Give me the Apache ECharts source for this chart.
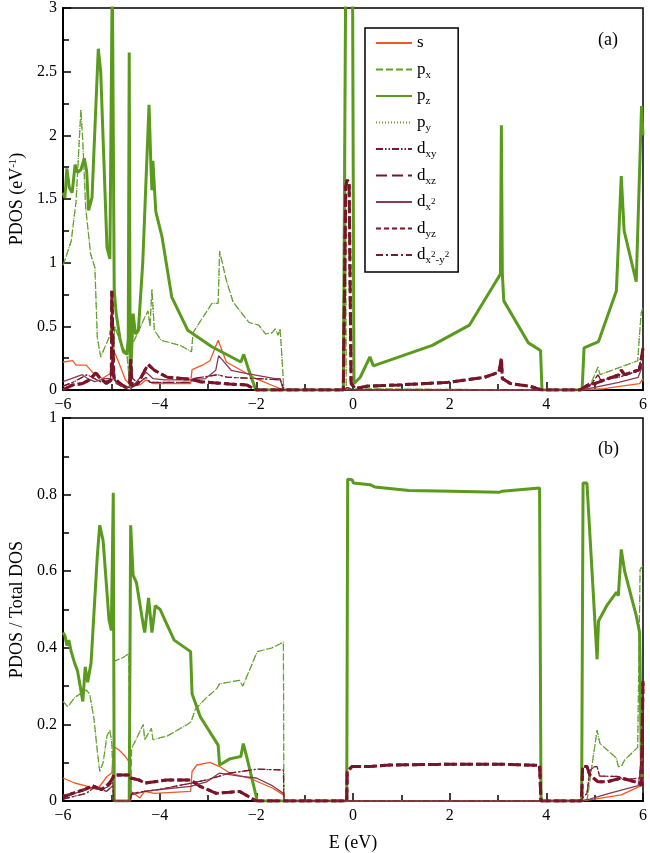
<!DOCTYPE html>
<html>
<head>
<meta charset="utf-8">
<script src="https://cdn.jsdelivr.net/npm/echarts@6/dist/echarts.min.js"></script>
<style>
  html, body { margin: 0; padding: 0; background: #fff; }
  #chart { width: 650px; height: 853px; }
</style>
</head>
<body>
<div id="chart"></div>
<script>
// x ticks and y ranges
const xTicks = [-6, -4, -2, 0, 2, 4, 6]
const yTopMax = 3
const yBotMax = 1

// (a) PDOS, eV^-1  -- [E, value]
const sTop = [[-6,0.22],[-5.8,0.23],[-5.73,0.195],[-5.52,0.195],[-5.39,0.14],[-5.19,0.09],[-5.02,0.13],[-4.95,0.31],[-4.85,0.22],[-4.71,0.08],[-4.61,0.04],[-4.41,0.04],[-4.28,0.08],[-4.14,0.05],[-3.36,0.05],[-3.33,0.16],[-3.09,0.2],[-2.96,0.23],[-2.79,0.39],[-2.62,0.22],[-2.01,0.09],[-1.44,0],[-0.2,0],[-0.12,0.02],[0,0],[4.7,0],[5.2,0.01],[5.55,0.03],[5.93,0.05],[6,0.09]]
const pxTop = [[-6,0.98],[-5.96,1.02],[-5.83,1.17],[-5.73,1.48],[-5.63,2.2],[-5.59,1.95],[-5.53,1.43],[-5.43,1.07],[-5.34,0.96],[-5.29,0.41],[-5.22,0.26],[-5.05,0.41],[-4.98,0.55],[-4.96,0.2],[-4.93,0.5],[-4.78,0.34],[-4.68,0.29],[-4.62,0.05],[-4.58,0.35],[-4.45,0.45],[-4.31,0.57],[-4.24,0.62],[-4.2,0.5],[-4.16,0.79],[-4.11,0.47],[-3.97,0.39],[-3.57,0.35],[-3.34,0.3],[-3.31,0.45],[-2.92,0.68],[-2.79,0.68],[-2.76,1.09],[-2.62,0.86],[-2.48,0.69],[-2.15,0.53],[-1.95,0.51],[-1.81,0.44],[-1.67,0.45],[-1.61,0.48],[-1.55,0.43],[-1.51,0.48],[-1.49,0.38],[-1.43,0],[-0.2,0],[-0.16,2.32],[-0.14,0],[0.1,0.01],[3.9,0],[4.7,0],[4.91,0.04],[5.07,0.18],[5.11,0.12],[5.89,0.23],[5.96,0.6],[6,0.65]]
const pzTop = [[-6,1.55],[-5.96,1.51],[-5.92,1.74],[-5.87,1.59],[-5.81,1.55],[-5.75,1.77],[-5.7,1.71],[-5.63,1.73],[-5.56,1.82],[-5.51,1.72],[-5.47,1.41],[-5.4,1.51],[-5.27,2.68],[-5.22,2.5],[-5.09,1.12],[-5.03,1.03],[-4.99,1.02],[-4.98,3.3],[-4.95,3.3],[-4.94,0.78],[-4.9,0.6],[-4.82,0.4],[-4.75,0.3],[-4.68,0.28],[-4.65,0.4],[-4.63,2.65],[-4.61,0.02],[-4.55,0.6],[-4.5,0.44],[-4.44,0.47],[-4.35,1.0],[-4.22,2.24],[-4.18,1.75],[-4.16,1.57],[-4.14,1.8],[-4.08,1.4],[-3.95,1.2],[-3.75,0.73],[-3.42,0.47],[-2.92,0.34],[-2.32,0.22],[-2.26,0.28],[-2.16,0.16],[-2.01,0],[-0.2,0],[-0.15,3.3],[-0.01,3.3],[0.02,0.05],[0.15,0.1],[0.35,0.26],[0.42,0.19],[1.64,0.35],[2.41,0.51],[2.84,0.78],[3.05,0.91],[3.07,2.08],[3.09,0.91],[3.12,0.7],[3.63,0.37],[3.88,0.31],[3.91,0],[4.74,0],[4.78,0.33],[5.08,0.38],[5.45,0.78],[5.49,0.78],[5.55,1.68],[5.61,1.25],[5.86,0.85],[5.89,0.86],[5.97,2.23],[6,2.0]]
const pyTop = pxTop // p_y degenerate with p_x
const dxyTop = [[-6,0.03],[-5.8,0.06],[-5.6,0.1],[-5.5,0.12],[-5.4,0.1],[-5.2,0.06],[-5.02,0.08],[-4.97,0.3],[-4.94,0.08],[-4.8,0.03],[-4.62,0.02],[-4.58,0.1],[-4.45,0.05],[-4.28,0.1],[-4.2,0.06],[-3.8,0.06],[-3.36,0.06],[-3.3,0.09],[-2.8,0.12],[-2.6,0.1],[-2,0.09],[-1.5,0.08],[-1.43,0],[-0.2,0],[-0.12,0.02],[0,0],[4.7,0],[4.9,0.03],[5.07,0.12],[5.12,0.08],[5.5,0.1],[5.9,0.15],[6,0.3]]
const dxzTop = [[-6,0],[-5.8,0.04],[-5.6,0.05],[-5.45,0.08],[-5.32,0.135],[-5.25,0.1],[-5.1,0.05],[-5,0.08],[-4.99,0.78],[-4.96,0.78],[-4.95,0.1],[-4.85,0.06],[-4.7,0.02],[-4.62,0.05],[-4.6,0.24],[-4.57,0.03],[-4.45,0.05],[-4.3,0.16],[-4.24,0.2],[-4.11,0.155],[-3.84,0.1],[-3.36,0.085],[-3.16,0.065],[-2.55,0.047],[-2.2,0.04],[-2,0],[-0.2,0],[-0.15,1.6],[-0.12,1.65],[-0.08,1.63],[-0.04,0.05],[0.05,0.01],[0.28,0.03],[0.96,0.04],[1.97,0.06],[2.72,0.1],[3.02,0.14],[3.07,0.25],[3.09,0.09],[3.26,0.05],[3.66,0.03],[3.9,0],[4.7,0],[4.9,0.05],[5,0.05],[5.5,0.12],[5.55,0.155],[5.62,0.12],[5.93,0.16],[6,0.33]]
const dx2Top = [[-6,0.065],[-5.6,0.12],[-5.47,0.085],[-5.34,0.065],[-5.14,0.09],[-5.02,0.09],[-4.97,0.2],[-4.9,0.05],[-4.62,0],[-4.42,0.09],[-4.28,0.14],[-4.14,0.09],[-3.9,0.08],[-3.36,0.08],[-3.05,0.09],[-2.84,0.155],[-2.78,0.27],[-2.52,0.155],[-2.22,0.13],[-1.61,0.09],[-1.51,0.09],[-1.44,0],[-0.2,0],[0,0],[4.7,0],[5,0.02],[5.5,0.06],[5.9,0.1],[6,0.2]]
const dyzTop = dxzTop     // degenerate with d_xz
const dx2y2Top = dxyTop   // degenerate with d_xy

// (b) PDOS / Total DOS
const sBot = [[-6,0.06],[-5.76,0.047],[-5.49,0.038],[-5.29,0.03],[-5.19,0.047],[-5.09,0.064],[-4.99,0.073],[-4.95,0.142],[-4.84,0.133],[-4.71,0.116],[-4.61,0.099],[-4.59,0.025],[-4.41,0.008],[-4.31,0.025],[-4.11,0.02],[-3.36,0.025],[-3.33,0.077],[-3.23,0.094],[-2.96,0.101],[-2.76,0.09],[-2.55,0.073],[-2.15,0.06],[-1.67,0.034],[-1.44,0.016],[-1.43,0],[4.7,0],[5,0.005],[5.55,0.016],[5.93,0.038],[5.99,0.05],[6,0.1]]
const pxBot = [[-6,0.26],[-5.96,0.255],[-5.9,0.246],[-5.76,0.27],[-5.52,0.29],[-5.45,0.28],[-5.36,0.216],[-5.29,0.13],[-5.24,0.077],[-5.17,0.1],[-5.09,0.17],[-5.03,0.185],[-4.99,0.15],[-4.96,0.05],[-4.94,0.365],[-4.75,0.375],[-4.64,0.385],[-4.62,0.39],[-4.6,0],[-4.58,0.138],[-4.51,0.155],[-4.34,0.2],[-4.31,0.16],[-4.17,0.19],[-4.14,0.16],[-3.84,0.17],[-3.7,0.18],[-3.43,0.2],[-3.35,0.207],[-3.26,0.24],[-3.03,0.27],[-2.82,0.293],[-2.76,0.306],[-2.35,0.315],[-2.28,0.3],[-1.98,0.39],[-1.67,0.4],[-1.44,0.415],[-1.43,0],[4.7,0],[4.84,0],[5.05,0.185],[5.11,0.15],[5.45,0.112],[5.49,0.09],[5.55,0.09],[5.62,0.107],[5.89,0.14],[5.94,0.605],[6,0.614]]
const pzBot = [[-6,0.44],[-5.96,0.432],[-5.92,0.406],[-5.88,0.42],[-5.83,0.39],[-5.76,0.36],[-5.7,0.34],[-5.59,0.26],[-5.54,0.35],[-5.49,0.31],[-5.42,0.36],[-5.29,0.64],[-5.24,0.72],[-5.17,0.68],[-5.09,0.545],[-5.05,0.475],[-5,0.445],[-4.96,0.805],[-4.94,0],[-4.63,0],[-4.6,0.72],[-4.55,0.59],[-4.48,0.57],[-4.34,0.46],[-4.31,0.44],[-4.23,0.53],[-4.16,0.44],[-4.09,0.51],[-3.99,0.5],[-3.9,0.475],[-3.7,0.42],[-3.36,0.39],[-3.33,0.28],[-3.16,0.22],[-2.79,0.146],[-2.76,0.094],[-2.55,0.11],[-2.32,0.116],[-2.27,0.15],[-2.2,0.116],[-1.98,0],[-0.13,0],[-0.11,0.84],[-0.02,0.839],[0.01,0.83],[0.35,0.826],[0.45,0.82],[1.16,0.811],[2.04,0.809],[3.02,0.806],[3.09,0.809],[3.86,0.817],[3.89,0],[4.73,0],[4.76,0.83],[4.84,0.83],[5.05,0.37],[5.08,0.47],[5.25,0.51],[5.45,0.545],[5.49,0.536],[5.55,0.657],[5.62,0.6],[5.86,0.484],[5.93,0.44],[5.97,0.06],[6,0.05]]
const pyBot = pxBot
const dxyBot = [[-6,0.005],[-5.52,0.02],[-5.32,0.038],[-5.1,0.025],[-4.97,0.04],[-4.95,0],[-4.61,0],[-4.58,0.02],[-4.31,0.025],[-4,0.03],[-3.7,0.038],[-3.33,0.047],[-3.03,0.055],[-2.55,0.073],[-1.98,0.083],[-1.44,0.081],[-1.43,0],[4.7,0],[4.84,0.02],[4.9,0.08],[5,0.09],[5.05,0.09],[5.1,0.065],[5.5,0.064],[5.6,0.055],[5.93,0.06],[6,0.2]]
const dxzBot = [[-6,0.01],[-5.8,0.02],[-5.55,0.03],[-5.4,0.04],[-5.3,0.035],[-5.2,0.03],[-5.05,0.045],[-4.97,0.06],[-4.95,0.068],[-4.62,0.068],[-4.6,0.06],[-4.43,0.055],[-4.31,0.047],[-4.11,0.05],[-3.84,0.055],[-3.36,0.055],[-3.16,0.038],[-2.83,0.02],[-2.35,0.025],[-2.18,0.013],[-2,0],[-0.13,0],[-0.12,0.077],[-0.02,0.09],[0.35,0.09],[0.76,0.094],[2.04,0.096],[3.05,0.096],[3.86,0.093],[3.89,0],[4.73,0],[4.75,0.09],[4.84,0.09],[4.9,0.068],[5.07,0.05],[5.25,0.05],[5.55,0.06],[5.93,0.047],[5.97,0.04],[6,0.32]]
const dx2Bot = [[-6,0.016],[-5.76,0.02],[-5.52,0.03],[-5.32,0.038],[-5.2,0.03],[-5.05,0.038],[-4.97,0.05],[-4.95,0],[-4.61,0],[-4.58,0.016],[-4.31,0.025],[-4,0.03],[-3.36,0.038],[-3.03,0.05],[-2.76,0.073],[-2.35,0.065],[-2,0.06],[-1.67,0.04],[-1.44,0.02],[-1.43,0],[4.7,0],[4.9,0.005],[5.3,0.02],[5.9,0.04],[6,0.12]]
const dyzBot = dxzBot
const dx2y2Bot = dxyBot

const orbitals = [
  { name: 's',     top: sTop,     bot: sBot,     color: '#ee5a24', width: 1.3, type: 'solid' },
  { name: 'px',    top: pxTop,    bot: pxBot,    color: '#64a02c', width: 1.2, type: [7, 3] },
  { name: 'pz',    top: pzTop,    bot: pzBot,    color: '#5a9a1c', width: 3,   type: 'solid' },
  { name: 'py',    top: pyTop,    bot: pyBot,    color: '#64a02c', width: 1.2, type: [1, 2] },
  { name: 'dxy',   top: dxyTop,   bot: dxyBot,   color: '#7a1a30', width: 1.2, type: [7, 2, 1.5, 2, 1.5, 2] },
  { name: 'dxz',   top: dxzTop,   bot: dxzBot,   color: '#7a1428', width: 3,   type: [11, 5] },
  { name: 'dx2',   top: dx2Top,   bot: dx2Bot,   color: '#8a3a55', width: 1.3, type: 'solid' },
  { name: 'dyz',   top: dyzTop,   bot: dyzBot,   color: '#7a1428', width: 3,   type: [5, 3] },
  { name: 'dx2y2', top: dx2y2Top, bot: dx2y2Bot, color: '#7a1a30', width: 1.2, type: [7, 3, 2, 3] },
]

const legendText = {
  s: 's', px: 'p{sub|x}', pz: 'p{sub|z}', py: 'p{sub|y}',
  dxy: 'd{sub|xy}', dxz: 'd{sub|xz}', dx2: 'd{sub|x}{sup|2}',
  dyz: 'd{sub|yz}', dx2y2: 'd{sub|x}{sup|2}{sub|-y}{sup|2}',
}

const FONT = '"Liberation Serif", "DejaVu Serif", serif'
const minus = v => (v < 0 ? '\u2212' + (-v) : String(v))

function xAxis(gridIndex, withName) {
  return {
    gridIndex, type: 'value', min: xTicks[0], max: xTicks[xTicks.length - 1], interval: 2,
    name: withName ? 'E (eV)' : '', nameLocation: 'middle', nameGap: 33,
    nameTextStyle: { fontFamily: FONT, fontSize: 18, color: '#000' },
    axisLine: { onZero: false, lineStyle: { color: '#000', width: 2 } },
    axisTick: { inside: true, length: 8, lineStyle: { color: '#000', width: 1.5 } },
    minorTick: { show: true, splitNumber: 2, length: 6, lineStyle: { color: '#000', width: 1.5 } },
    axisLabel: { fontFamily: FONT, fontSize: 16, color: '#000', margin: 7, formatter: minus },
    splitLine: { show: false },
  }
}

function yAxis(gridIndex, max, interval, name) {
  return {
    gridIndex, type: 'value', min: 0, max, interval,
    name, nameLocation: 'middle', nameGap: 37,
    nameTextStyle: { fontFamily: FONT, fontSize: 18, color: '#000',
      rich: { sup: { fontFamily: FONT, fontSize: 11, verticalAlign: 'top', lineHeight: 11 } } },
    axisLine: { onZero: false, lineStyle: { color: '#000', width: 2 } },
    axisTick: { inside: true, length: 8, lineStyle: { color: '#000', width: 1.5 } },
    minorTick: { show: true, splitNumber: 2, length: 6, lineStyle: { color: '#000', width: 1.5 } },
    axisLabel: { fontFamily: FONT, fontSize: 16, color: '#000', margin: 6 },
    splitLine: { show: false },
  }
}

const series = []
orbitals.forEach(o => {
  ;[['top', 0], ['bot', 1]].forEach(([k, i]) => {
    series.push({
      name: o.name, type: 'line', data: o[k],
      xAxisIndex: i, yAxisIndex: i,
      symbol: 'none', smooth: false, clip: true,
      lineStyle: { color: o.color, width: o.width, type: o.type },
      itemStyle: { color: o.color },
    })
  })
})

const chart = echarts.init(document.getElementById('chart'))
chart.setOption({
  animation: false,
  backgroundColor: '#fff',
  grid: [
    { left: 53, top: 5, width: 593, height: 385, show: true, borderColor: '#000', borderWidth: 1.5 },
    { left: 53, top: 418, width: 593, height: 385, show: true, borderColor: '#000', borderWidth: 1.5 },
  ],
  xAxis: [xAxis(0, false), xAxis(1, true)],
  yAxis: [
    yAxis(0, yTopMax, 0.5, 'PDOS (eV{sup|-1})'),
    yAxis(1, yBotMax, 0.2, 'PDOS / Total DOS'),
  ],
  legend: {
    data: orbitals.map(o => o.name),
    orient: 'vertical', left: 365, top: 28,
    padding: [4, 9, 6, 10],
    itemWidth: 36, itemHeight: 14, itemGap: 4.5,
    borderColor: '#000', borderWidth: 1.5, backgroundColor: '#fff',
    selectedMode: false,
    itemStyle: { opacity: 0, color: 'rgba(0,0,0,0)', borderWidth: 0 },
    formatter: n => legendText[n],
    textStyle: {
      fontFamily: FONT, fontSize: 17, color: '#000', lineHeight: 22,
      rich: {
        sub: { fontFamily: FONT, fontSize: 11, lineHeight: 11, verticalAlign: 'bottom', color: '#000' },
        sup: { fontFamily: FONT, fontSize: 9, lineHeight: 9, verticalAlign: 'middle', color: '#000' },
      },
    },
  },
  graphic: [
    { type: 'text', left: 598, top: 31, style: { text: '(a)', font: '18px ' + FONT, fill: '#000' } },
    { type: 'text', left: 598, top: 440, style: { text: '(b)', font: '18px ' + FONT, fill: '#000' } },
  ],
  series,
})
</script>
</body>
</html>
